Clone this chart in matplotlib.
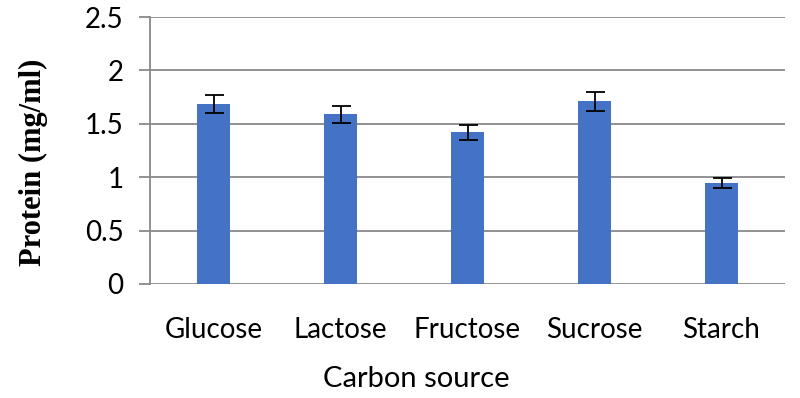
import matplotlib
matplotlib.use("Agg")
import matplotlib.pyplot as plt
import numpy as np

categories = ["Glucose", "Lactose", "Fructose", "Sucrose", "Starch"]
protein = [1.685, 1.59, 1.42, 1.71, 0.945]
errors = [0.08, 0.08, 0.07, 0.09, 0.045]
yticks = [0, 0.5, 1, 1.5, 2, 2.5]
ytick_labels = ["0", "0.5", "1", "1.5", "2", "2.5"]

fig = plt.figure(figsize=(8, 3.98), dpi=100)
ax = fig.add_axes([150/800, 1-284/398, (785-150)/800, (284-17)/398])

x = np.arange(len(categories))
ax.bar(x, protein, width=0.26, color="#4472C4", zorder=3)
ax.errorbar(x, protein, yerr=errors, fmt="none", ecolor="black",
            elinewidth=1.3, capsize=9.5*0.72, capthick=1.3, zorder=4)

ax.set_xlim(-0.5, len(categories)-0.5)
ax.set_ylim(0, 2.5)
ax.set_yticks(yticks)
ax.set_yticklabels(ytick_labels)
ax.yaxis.grid(True, color="#898989", linewidth=1.3, zorder=0)
ax.set_axisbelow(True)

for s in ["top", "right", "bottom"]:
    ax.spines[s].set_visible(False)
ax.spines["left"].set_color("#898989")
ax.spines["left"].set_linewidth(1.3)

ax.tick_params(axis="y", length=8, width=1.3, color="#898989", pad=11,
               labelsize=20)
ax.tick_params(axis="x", length=0, pad=24, labelsize=20)
ax.set_xticks(x)
ax.set_xticklabels(categories)
for lab in ax.get_xticklabels() + ax.get_yticklabels():
    lab.set_fontfamily("Lato")

fig.text(33/800, 1-162/398, "Protein (mg/ml)", rotation=90,
         fontfamily="Liberation Serif", fontweight="bold", fontsize=22,
         ha="center", va="center")
fig.text(416/800, 1-379/398, "Carbon source", fontfamily="Lato",
         fontsize=21, ha="center", va="center")

fig.savefig("out.png", dpi=100)
